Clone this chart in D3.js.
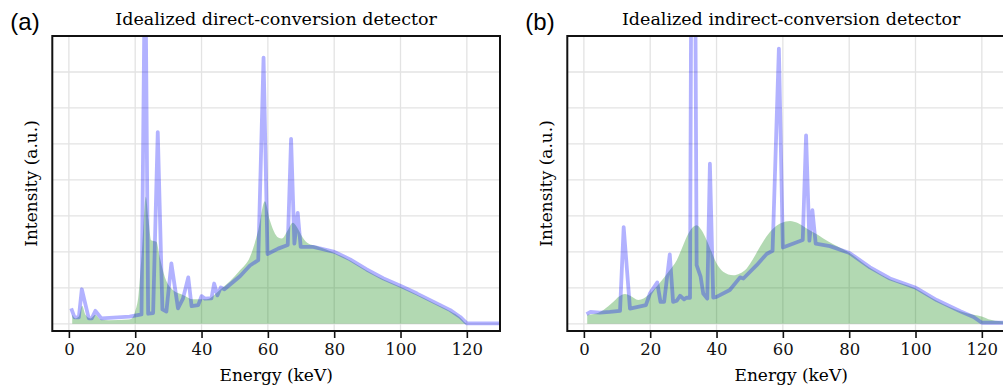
<!DOCTYPE html>
<html>
<head>
<meta charset="utf-8">
<script src="https://cdn.jsdelivr.net/npm/d3@7"></script>
<style>
  body { margin: 0; background: white; }
  svg { display: block; }
</style>
</head>
<body>
<script>
// tick values
var xTicks = [0, 20, 40, 60, 80, 100, 120];
var yGrid = [0, 1, 2, 3, 4, 5, 6, 7, 8];

// (a) direct conversion: incident spectrum (blue line)
var directLineE = [0.7, 1.7, 3.0, 3.9, 6.0, 6.9, 8.0, 9.8, 18.3, 21.9, 23.0, 23.9, 25.4, 26.8, 28.2, 29.4, 30.9, 32.9, 34.4, 36.0, 37.0, 39.0, 40.0, 41.0, 43.0, 43.8, 44.8, 45.8, 46.9, 51.6, 54.6, 57.1, 58.7, 59.9, 63.1, 66.0, 67.0, 68.0, 69.0, 69.9, 73.7, 80.1, 84.8, 89.8, 94.9, 100.1, 105, 110, 115, 118, 120, 130];
var directLineV = [0.43, 0.18, 0.18, 0.96, 0.15, 0.15, 0.36, 0.15, 0.20, 0.26, 10.9, 0.28, 0.30, 5.33, 0.40, 0.34, 1.68, 0.43, 0.70, 1.29, 0.49, 0.52, 0.77, 0.70, 0.71, 1.12, 0.79, 1.01, 0.96, 1.32, 1.62, 1.77, 7.40, 1.94, 2.09, 2.19, 5.14, 2.23, 3.08, 2.14, 2.14, 2.00, 1.79, 1.51, 1.26, 1.05, 0.84, 0.61, 0.38, 0.19, 0.01, 0.01];
// (a) detected spectrum (green fill)
var directFillE = [1.0, 2.0, 3.0, 4.0, 5.0, 6.5, 8.0, 9.5, 12, 18, 19.0, 20.0, 21.0, 22.0, 23.2, 24.0, 24.8, 26.4, 27.4, 28.9, 30.9, 34.4, 37.5, 41.5, 45.5, 51.6, 54.6, 57.1, 59.1, 60.6, 63.1, 64.2, 66.0, 67.5, 68.7, 70.5, 72.2, 74.7, 80.1, 84.8, 89.8, 94.9, 100.1, 105, 110, 115, 118, 119.5, 120];
var directFillV = [0.25, 0.15, 0.20, 0.50, 0.25, 0.15, 0.25, 0.12, 0.10, 0.12, 0.15, 0.35, 0.80, 2.00, 3.53, 2.90, 2.32, 2.28, 1.86, 1.31, 0.98, 0.80, 0.68, 0.68, 0.94, 1.49, 1.86, 2.60, 3.41, 2.88, 2.40, 2.37, 2.60, 2.81, 2.70, 2.40, 2.23, 2.16, 1.97, 1.76, 1.48, 1.23, 1.02, 0.81, 0.58, 0.35, 0.17, 0.03, 0];

// (b) indirect conversion: incident spectrum (blue line)
var indirectLineE = [0.8, 2.0, 4.8, 7.8, 10.9, 12.0, 13.9, 18.7, 19.9, 22.1, 23.1, 24.2, 25.9, 26.9, 28.0, 29.0, 30.2, 31.0, 32.0, 32.9, 34.0, 35.2, 36.0, 37.2, 38.0, 39.0, 40.0, 44.0, 47.1, 48.1, 52.1, 55.1, 56.9, 58.8, 60.0, 66.0, 67.0, 68.0, 68.9, 69.9, 74.2, 80.1, 86.3, 92.3, 99.9, 106.4, 113.5, 117.5, 120, 130];
var indirectLineV = [0.27, 0.33, 0.31, 0.33, 0.36, 2.69, 0.42, 0.52, 0.84, 1.15, 0.61, 0.61, 1.93, 0.61, 0.64, 0.78, 0.68, 0.73, 0.72, 22.6, 1.63, 1.31, 0.84, 0.70, 4.45, 0.73, 0.75, 0.94, 1.29, 1.26, 1.63, 1.94, 2.03, 7.65, 2.12, 2.33, 5.24, 2.31, 3.16, 2.23, 2.16, 1.97, 1.57, 1.26, 1.01, 0.66, 0.35, 0.19, 0.03, 0.03];
// (b) detected spectrum (green fill)
var indirectFillE = [1.0, 3.0, 5.8, 8.9, 10.5, 12.4, 14.0, 16.4, 18.0, 19.9, 22.9, 25.5, 28.0, 30.0, 31.5, 33.0, 34.0, 35.5, 37.0, 38.5, 40.0, 42.0, 45.1, 47.0, 49.1, 51.0, 53.1, 55.0, 57.1, 59.5, 62.2, 64.5, 67.2, 70, 72.2, 75.5, 79.3, 86.3, 92.3, 99.9, 106.4, 113.5, 117.5, 120, 122, 126, 130];
var indirectFillV = [0.25, 0.27, 0.38, 0.61, 0.75, 0.83, 0.78, 0.66, 0.70, 0.84, 1.14, 1.45, 1.77, 2.20, 2.51, 2.70, 2.74, 2.60, 2.33, 2.00, 1.68, 1.45, 1.35, 1.40, 1.54, 1.80, 2.14, 2.42, 2.65, 2.80, 2.86, 2.80, 2.65, 2.50, 2.37, 2.20, 2.02, 1.55, 1.24, 0.99, 0.64, 0.35, 0.25, 0.20, 0.13, 0.07, 0.05];

var panels = [
  {tag: "(a)", title: "Idealized direct-conversion detector", left: 52.3,
   lineE: directLineE, lineV: directLineV, fillE: directFillE, fillV: directFillV},
  {tag: "(b)", title: "Idealized indirect-conversion detector", left: 567.3,
   lineE: indirectLineE, lineV: indirectLineV, fillE: indirectFillE, fillV: indirectFillV}
];

var W = 1003, H = 392;
var plotW = 447.7, plotTop = 36, plotBottom = 331;
var serif = "'DejaVu Serif', serif";

var svg = d3.select("body").append("svg")
  .attr("width", W)
  .attr("height", H);

var y = d3.scaleLinear().domain([-0.2, 8]).range([plotBottom, plotTop]);

panels.forEach(function(p, i) {
  var x = d3.scaleLinear().domain([-5, 130]).range([p.left, p.left + plotW]);
  var g = svg.append("g");

  g.append("clipPath").attr("id", "clip" + i)
    .append("rect")
    .attr("x", p.left).attr("y", plotTop)
    .attr("width", plotW).attr("height", plotBottom - plotTop);

  // grid
  g.selectAll(".vgrid").data(xTicks).enter().append("line")
    .attr("x1", function(d) { return x(d); }).attr("x2", function(d) { return x(d); })
    .attr("y1", plotTop).attr("y2", plotBottom)
    .attr("stroke", "#e3e3e3").attr("stroke-width", 1.3);
  g.selectAll(".hgrid").data(yGrid).enter().append("line")
    .attr("x1", p.left).attr("x2", p.left + plotW)
    .attr("y1", function(d) { return y(d); }).attr("y2", function(d) { return y(d); })
    .attr("stroke", "#e3e3e3").attr("stroke-width", 1.3);

  var plot = g.append("g").attr("clip-path", "url(#clip" + i + ")");

  // detected spectrum (smooth)
  var area = d3.area()
    .curve(d3.curveMonotoneX)
    .x(function(d) { return x(d[0]); })
    .y0(y(0))
    .y1(function(d) { return y(d[1]); });
  plot.append("path")
    .datum(d3.zip(p.fillE, p.fillV))
    .attr("d", area)
    .attr("fill", "green")
    .attr("fill-opacity", 0.3);

  // incident spectrum
  var line = d3.line()
    .x(function(d) { return x(d[0]); })
    .y(function(d) { return y(d[1]); });
  plot.append("path")
    .datum(d3.zip(p.lineE, p.lineV))
    .attr("d", line)
    .attr("fill", "none")
    .attr("stroke", "blue")
    .attr("stroke-opacity", 0.3)
    .attr("stroke-width", 3.8)
    .attr("stroke-linejoin", "round");

  // frame
  g.append("rect")
    .attr("x", p.left).attr("y", plotTop)
    .attr("width", plotW).attr("height", plotBottom - plotTop)
    .attr("fill", "none").attr("stroke", "#111").attr("stroke-width", 2);

  // x axis
  var xAxis = g.append("g")
    .attr("transform", "translate(0," + plotBottom + ")")
    .call(d3.axisBottom(x).tickValues(xTicks).tickSize(7).tickPadding(5));
  xAxis.select(".domain").remove();
  xAxis.selectAll(".tick line").attr("stroke", "#111").attr("stroke-width", 1.6);
  xAxis.selectAll(".tick text")
    .style("font-family", serif).style("font-size", "16.5px").attr("fill", "#111");

  g.append("text")
    .attr("x", p.left + plotW / 2).attr("y", 381)
    .attr("text-anchor", "middle")
    .style("font-family", serif).style("font-size", "17px")
    .text("Energy (keV)");

  g.append("text")
    .attr("transform", "translate(" + (p.left - 15) + "," + ((plotTop + plotBottom) / 2) + ") rotate(-90)")
    .attr("text-anchor", "middle")
    .style("font-family", serif).style("font-size", "17px")
    .text("Intensity (a.u.)");

  g.append("text")
    .attr("x", p.left + plotW / 2).attr("y", 24.5)
    .attr("text-anchor", "middle")
    .style("font-family", serif).style("font-size", "17.5px")
    .text(p.title);

  g.append("text")
    .attr("x", p.left - 42).attr("y", 30)
    .style("font-family", "'Liberation Sans', Arial, sans-serif").style("font-size", "24px")
    .text(p.tag);
});
</script>
</body>
</html>
